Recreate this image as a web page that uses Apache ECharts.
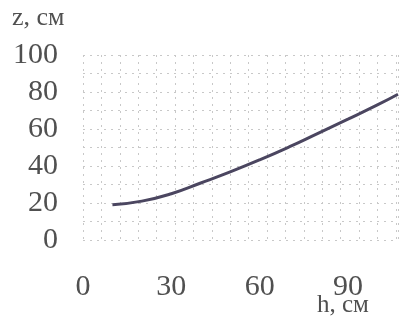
<!DOCTYPE html>
<html><head><meta charset="utf-8">
<script src="https://cdn.jsdelivr.net/npm/echarts@6/dist/echarts.min.js"></script>
<style>html,body{margin:0;padding:0;background:#fff}#c{width:401px;height:320px}</style>
</head><body><div id="c"></div>
<script>
const hValues = [10, 20, 30, 40, 50, 60, 70, 80, 90, 100, 107];
const zValues = [19, 21, 25, 30.8, 36.8, 43.3, 50.3, 57.8, 65.3, 73, 78.8];
const xTicks = [0, 30, 60, 90];
const yTicks = [0, 20, 40, 60, 80, 100];
const xTitle = 'h, см';
const yTitle = 'z, см';

const font = '"Liberation Serif", "DejaVu Serif", serif';
const txt = '#505050';
const chart = echarts.init(document.getElementById('c'), null, {renderer: 'canvas'});
chart.setOption({
  animation: false,
  backgroundColor: '#fff',
  grid: {left: 83, right: 0, top: 55, bottom: 80},
  xAxis: [{
    type: 'value', min: 0, max: 107, interval: 30,
    axisLine: {show: false}, axisTick: {show: false}, splitLine: {show: false},
    axisLabel: {color: txt, fontFamily: font, fontSize: 30, margin: 32,
      formatter: v => xTicks.includes(v) ? String(v) : ''}
  }, {
    type: 'value', min: 0, max: 107, interval: 6.25, show: true,
    axisLine: {show: false}, axisTick: {show: false}, axisLabel: {show: false},
    splitLine: {show: true, lineStyle: {color: '#c8c8c8', type: [2, 5], width: 1}}
  }],
  yAxis: [{
    type: 'value', min: 0, max: 100, interval: 20,
    axisLine: {show: false}, axisTick: {show: false}, splitLine: {show: false},
    axisLabel: {color: txt, fontFamily: font, fontSize: 30, margin: 25,
      formatter: v => yTicks.includes(v) ? String(v) : ''}
  }, {
    type: 'value', min: 0, max: 100, interval: 10,
    axisLine: {show: false}, axisTick: {show: false}, axisLabel: {show: false},
    splitLine: {show: true, lineStyle: {color: '#c8c8c8', type: [2, 5], width: 1}}
  }],
  graphic: [
    {type: 'text', left: 12, top: 5, style: {text: yTitle, font: '26px ' + font, fill: txt}},
    {type: 'text', left: 317, top: 293, style: {text: xTitle, font: '25px ' + font, fill: txt}}
  ],
  series: [{
    type: 'line', xAxisIndex: 0, yAxisIndex: 0, smooth: true, showSymbol: false,
    lineStyle: {color: '#4b4660', width: 3},
    data: hValues.map((h, i) => [h, zValues[i]])
  }]
});
</script></body></html>
